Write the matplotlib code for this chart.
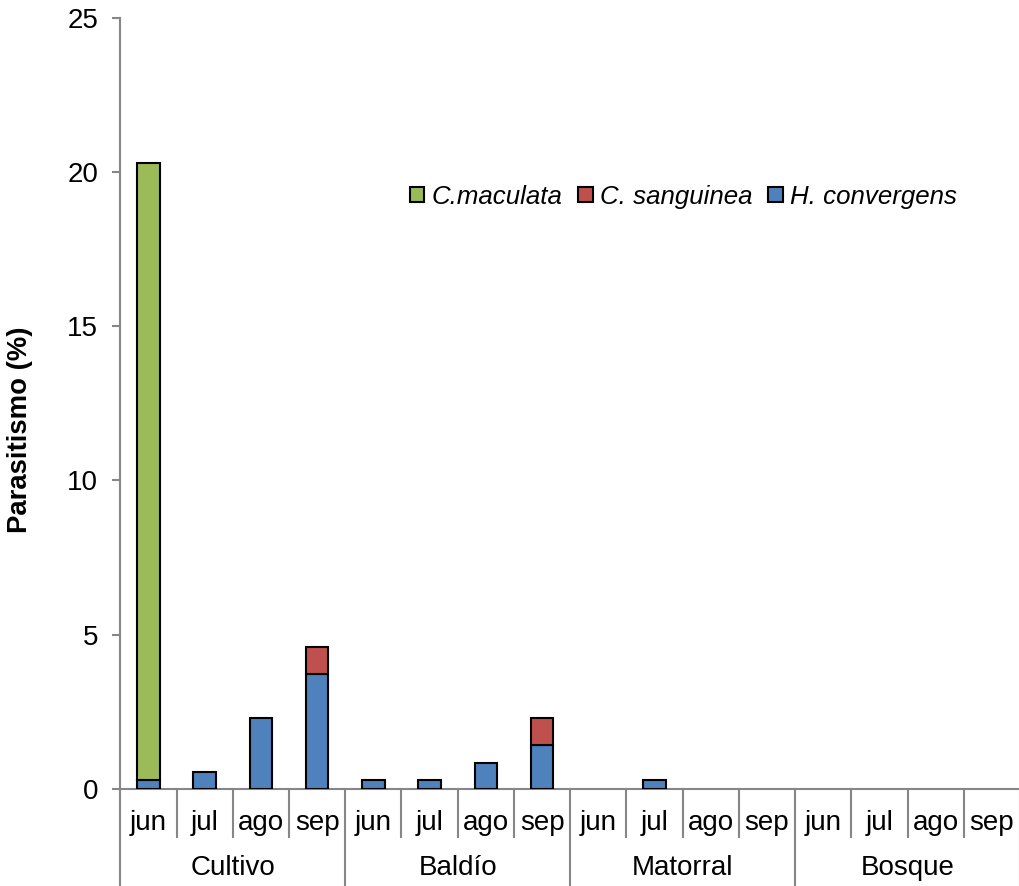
import matplotlib.pyplot as plt
import matplotlib.transforms as mtransforms
from matplotlib.patches import Patch
import numpy as np

plt.rcParams['font.family'] = ['Liberation Sans', 'DejaVu Sans']

sites = ['Cultivo', 'Baldío', 'Matorral', 'Bosque']
months = ['jun', 'jul', 'ago', 'sep']

# parasitism (%) per site x month, stacked by species
h_convergens = [0.29, 0.56, 2.31, 3.73,
                0.29, 0.29, 0.85, 1.43,
                0, 0.29, 0, 0,
                0, 0, 0, 0]
c_sanguinea = [0, 0, 0, 0.87,
               0, 0, 0, 0.88,
               0, 0, 0, 0,
               0, 0, 0, 0]
c_maculata = [20.0, 0, 0, 0,
              0, 0, 0, 0,
              0, 0, 0, 0,
              0, 0, 0, 0]

blue = '#4F81BD'
red = '#C0504D'
green = '#9BBB59'
grey = '#868686'

fig = plt.figure(figsize=(10.2, 8.86), dpi=100)
ax = fig.add_axes([0.118, 0.1095, 0.882, 0.8705])

x = np.arange(len(h_convergens))
hc = np.array(h_convergens)
cs = np.array(c_sanguinea)
cm = np.array(c_maculata)

kw = dict(width=0.4, edgecolor='black', linewidth=1.5, zorder=3)
b1 = ax.bar(x, hc, color=blue, **kw)
b2 = ax.bar(x, cs, bottom=hc, color=red, **kw)
b3 = ax.bar(x, cm, bottom=hc + cs, color=green, **kw)
# hide empty segments
for bars, vals in ((b1, hc), (b2, cs), (b3, cm)):
    for r, v in zip(bars, vals):
        if v == 0:
            r.set_visible(False)

ax.set_xlim(-0.5, 15.5)
ax.set_ylim(0, 25)
ax.set_yticks([0, 5, 10, 15, 20, 25])
ax.tick_params(axis='y', labelsize=20, length=6, color=grey, width=1.5, pad=10)
ax.set_xticks([])
for s in ['top', 'right']:
    ax.spines[s].set_visible(False)
for s in ['left', 'bottom']:
    ax.spines[s].set_color(grey)
    ax.spines[s].set_linewidth(1.5)

ax.set_ylabel('Parasitismo (%)', fontsize=19.8, fontweight='bold')
ax.yaxis.set_label_coords(-0.097, 0.466)

# two-level category axis
tr = mtransforms.blended_transform_factory(ax.transData, ax.transAxes)
for i in range(len(x) + 1):
    xb = i - 0.5
    y_end = -0.1245 if i % 4 == 0 else -0.0623
    ax.plot([xb, xb], [0, y_end], color=grey, lw=1.5, transform=tr, clip_on=False)
for i in x:
    ax.text(i, -0.044, months[i % 4], transform=tr, ha='center', va='center', fontsize=20)
for g, name in enumerate(sites):
    ax.text(g * 4 + 1.5, -0.1025, name, transform=tr, ha='center', va='center', fontsize=20)

handles = [Patch(facecolor=green, edgecolor='black', lw=1.5, label='C.maculata'),
           Patch(facecolor=red, edgecolor='black', lw=1.5, label='C. sanguinea'),
           Patch(facecolor=blue, edgecolor='black', lw=1.5, label='H. convergens')]
ax.legend(handles=handles, ncol=3, frameon=False,
          loc='center left', bbox_to_anchor=(0.322, 0.768),
          prop={'size': 18.6, 'style': 'italic'},
          handlelength=0.55, handleheight=0.55, handletextpad=0.3, columnspacing=0.6,
          borderpad=0, borderaxespad=0)

fig.savefig('out.png', dpi=100)
